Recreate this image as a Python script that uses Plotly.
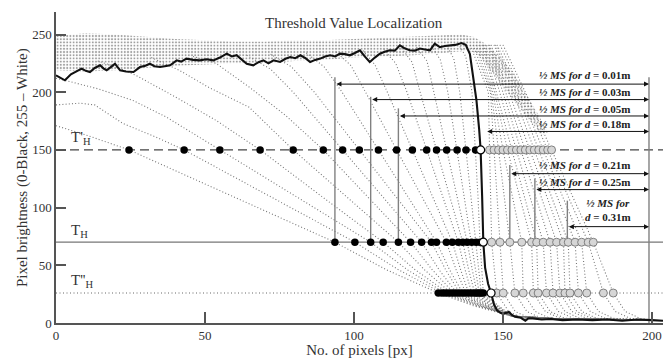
import plotly.graph_objects as go

# ---------------- data ----------------
# threshold levels
t_prime = 150
t_h = 70
t_dprime = 26

# crossing positions of the defocused profiles (black = left of edge, gray = right of edge)
black_150 = [24.5, 43, 55, 68.5, 79.6, 89.7, 96.2, 101.8, 108.2, 114.3, 119.6, 124.4, 127.7, 131.1, 134.6, 137.6, 140.8]
black_70 = [93.6, 100.3, 105.6, 109.8, 114.9, 119, 122.7, 126, 127.7, 131, 133, 135, 136.5, 138, 139.5, 141, 142.3]
black_26 = [128.3, 129.5, 130.5, 131.5, 132.5, 133.5, 134.5, 135.5, 136.5, 137.5, 138.5, 139.5, 140.5, 141.3, 142, 142.7, 143.4]
gray_150 = [145.5, 147, 148.5, 150, 151.5, 153, 154.5, 156, 157.5, 159, 160.5, 162, 163.5, 165, 166.3]
gray_70 = [146.2, 149, 152.3, 156.3, 159.6, 161.3, 163.5, 165.8, 168, 170.3, 171.9, 174.2, 176.4, 178.6, 180.3]
gray_26 = [147.9, 150.1, 154, 156.8, 160.2, 161.8, 164.6, 166.8, 169.1, 170.8, 172.5, 175.3, 178.1, 183.7, 187]
white_x = [142.5, 143.4, 146]
white_y = [150, 70, 26]

# dotted left-side profiles (x, brightness)
left_profiles = [
    [(0, 171), (10, 163), (24.5, 150), (59, 110), (93.6, 70), (111, 46), (128.3, 26), (140, 15), (153, 6), (170, 3.5), (200, 2.5)],
    [(0, 189), (8, 190.5), (13, 189), (22.4, 173), (33.6, 161), (43, 150), (71.6, 110), (100.3, 70), (115, 46), (129.5, 26), (141, 15), (153, 6), (170, 3.5), (200, 2.5)],
    [(0, 212), (3.4, 210), (14, 203), (25.7, 193), (37, 178.5), (55, 150), (80.3, 110), (105.6, 70), (118, 46), (130.5, 26), (141.5, 15), (153, 6), (170, 3.5), (200, 2.5)],
    [(14, 227), (20, 222), (26.8, 214.6), (40, 196), (53.7, 175.6), (68.5, 150), (89, 110), (109.8, 70), (120.6, 46), (131.5, 26), (142, 15), (153, 6), (170, 3.5), (200, 2.5)],
    [(32, 230), (41.4, 219), (51, 204.5), (64.8, 187), (79.6, 150), (97.2, 110), (114.9, 70), (123.7, 46), (132.5, 26), (142.5, 15), (153, 6), (170, 3.5), (200, 2.5)],
    [(46, 231), (53.7, 225), (64.8, 204.5), (77, 180), (89.7, 150), (104.3, 110), (119, 70), (126.3, 46), (133.5, 26), (143, 15), (153, 6), (170, 3.5), (200, 2.5)],
    [(64, 232), (72, 220), (79.6, 200), (96.2, 150), (109.5, 110), (122.7, 70), (128.6, 46), (134.5, 26), (143.5, 15), (153, 6), (170, 3.5), (200, 2.5)],
    [(72, 233), (79, 222), (86.7, 200), (101.8, 150), (113.9, 110), (126, 70), (130.8, 46), (135.5, 26), (144, 15), (153, 6), (170, 3.5), (200, 2.5)],
    [(84, 234), (90, 222), (96, 200), (108.2, 150), (118, 110), (127.7, 70), (132.1, 46), (136.5, 26), (144.5, 15), (153, 6), (170, 3.5), (200, 2.5)],
    [(94, 235), (99, 223), (103.9, 200), (114.3, 150), (122.7, 110), (131, 70), (134.3, 46), (137.5, 26), (145, 15), (153, 6), (170, 3.5), (200, 2.5)],
    [(103, 236), (107, 224), (111.2, 200), (119.6, 150), (126.3, 110), (133, 70), (135.8, 46), (138.5, 26), (145.5, 15), (153, 6), (170, 3.5), (200, 2.5)],
    [(110, 237), (114, 225), (117.8, 200), (124.4, 150), (129.7, 110), (135, 70), (137.3, 46), (139.5, 26), (146, 15), (153, 6), (170, 3.5), (200, 2.5)],
    [(116, 238), (119.5, 226), (122.2, 200), (127.7, 150), (132.1, 110), (136.5, 70), (138.5, 46), (140.5, 26), (146.5, 15), (153, 6), (170, 3.5), (200, 2.5)],
    [(121, 239), (124.5, 227), (126.8, 200), (131.1, 150), (134.6, 110), (138, 70), (139.7, 46), (141.3, 26), (147, 15), (153, 6), (170, 3.5), (200, 2.5)],
    [(126, 240), (129, 228), (131.5, 200), (134.6, 150), (137, 110), (139.5, 70), (140.8, 46), (142, 26), (147.5, 15), (153, 6), (170, 3.5), (200, 2.5)],
    [(131, 241), (133.5, 229), (135.5, 200), (137.6, 150), (139.3, 110), (141, 70), (141.9, 46), (142.7, 26), (148, 15), (153, 6), (170, 3.5), (200, 2.5)],
    [(135, 242), (137.5, 231), (139.6, 200), (140.8, 150), (141.6, 110), (142.3, 70), (142.9, 46), (143.4, 26), (148.5, 15), (153, 6), (170, 3.5), (200, 2.5)],
]

# dotted right-side profiles: top start x, x at brightness 200
right_top_x = [139, 140, 141, 142, 143, 143.5, 144, 145, 145.5, 146, 147, 147.5, 148, 149, 150]
right_200_x = [145.1, 145.8, 146.1, 146.6, 147.2, 147.8, 148.9, 149.9, 150.9, 152, 153.4, 154.4, 155.4, 156.5, 157.5]

# sharp (in-focus) profile, thick black line
sharp_profile = [
    (0, 214.6), (1.5, 212.5), (3, 210.3), (5, 215.5), (7, 218), (8.6, 220.4), (10, 218.5), (11.4, 217.5),
    (13, 221), (14.8, 223.3), (16, 220.5), (17, 219), (18.5, 222), (19.8, 224.7), (21.5, 219), (23.5, 218),
    (26, 217.5), (28.2, 221.8), (30, 223), (31.5, 224.7), (33, 222.5), (34.9, 221.8), (36.5, 222.5),
    (38.3, 223.3), (40.5, 227.6), (42, 226.5), (43.8, 229.1), (46, 228), (48.3, 227.6), (50.5, 228.5),
    (52.8, 227.6), (55, 230), (57.3, 233.4), (59, 231), (60.6, 232), (62.5, 228), (64, 224.7), (66.2, 223.3),
    (68, 226), (69.6, 227.6), (71.3, 225), (73, 227.6), (75.2, 226.2), (77, 229), (78.6, 230.5),
    (80.3, 229.5), (82, 232), (83.7, 229.5), (85.3, 226.2), (87, 228), (88.7, 229.1), (90.3, 231),
    (92, 232), (93.7, 231), (95.3, 233.4), (97, 233), (98.6, 232), (100.3, 234), (102, 236.3),
    (103.6, 231), (105.3, 226.2), (107, 230), (108.7, 233.4), (110.3, 235), (112, 236.3), (113.7, 236),
    (115.4, 240.6), (117, 238), (118.7, 236.3), (120.4, 236), (122.1, 237.8), (123.8, 237), (125.5, 236.3),
    (127.1, 242), (128.8, 239), (130.5, 240), (132.2, 240.6), (134, 241), (136.1, 242.6), (137.5, 241),
    (138.9, 233), (140, 215), (141.1, 193), (142, 168), (142.5, 150), (143, 110), (143.4, 70), (144, 48),
    (145, 34), (146, 26), (147, 16), (148, 11), (149, 9), (150, 8), (151, 8.5), (152, 9.5), (153, 7),
    (154, 5.5), (156, 4.5), (157.5, 2), (158.5, 4), (160, 4), (163, 3), (166, 3.5), (170, 2.5), (175, 3),
    (180, 2.5), (185, 3), (190, 2), (195, 3), (200, 2.5), (203.7, 2),
]

# noisy bright plateau band (outline of the dense cloud of profile samples)
band_outline = [
    (0, 249), (10, 251), (20, 250), (30, 248), (40, 246), (50, 245), (60, 244), (70, 244), (80, 245),
    (90, 245), (100, 246), (110, 247), (120, 248), (130, 249), (136, 250), (140, 248), (143, 244),
    (146, 238), (150, 228), (154, 215), (158, 198), (162, 180), (165, 165),
    (163, 163), (155, 188), (149, 208), (145, 222), (141, 234), (138, 236), (130, 234), (120, 232),
    (110, 231), (100, 230), (90, 228), (80, 227), (70, 225), (60, 225), (50, 224), (40, 223),
    (30, 221), (20, 219), (10, 218), (0, 219),
]

# half measuring-section annotations
ms_labels = ["0.01m", "0.03m", "0.05m", "0.18m", "0.21m", "0.25m", "0.31m"]
ms_start = [93.6, 105.6, 114.9, 144.2, 152.3, 160.7, 171.6]
ms_arrow_y = [207, 193.6, 179.4, 166, 129.4, 115.6, 83.5]
ms_line_top = [213, 196, 186, None, 137, 125, 106]
ms_label_y = [214.6, 200.2, 185.8, 172.8, 136.7, 122.2, 98]
ms_end = 199
ms_end_top = 213

X_MAX = 203.7
Y_MAX = 269.5
SERIF = "Liberation Serif"

fig = go.Figure()

# dense cloud of plateau samples
fig.add_trace(go.Scatter(
    x=[p[0] for p in band_outline], y=[p[1] for p in band_outline],
    mode="lines", line=dict(width=0), fill="toself",
    fillcolor="rgba(255,255,255,0)",
    fillpattern=dict(shape=".", fgcolor="#404040", bgcolor="rgba(255,255,255,0)", size=3.2, solidity=0.3),
    hoverinfo="skip"))

dotted = dict(color="#777777", width=1.1, dash="1px,2.2px")
for prof in left_profiles:
    fig.add_trace(go.Scatter(x=[p[0] for p in prof], y=[p[1] for p in prof],
                             mode="lines", line=dotted, hoverinfo="skip"))

for i in range(len(gray_150)):
    xs = [right_top_x[i], right_200_x[i], gray_150[i], gray_70[i], gray_26[i],
          gray_26[i] + 4, gray_26[i] + 9, 200]
    ys = [241, 200, t_prime, t_h, t_dprime, 10, 4, 2.5]
    fig.add_trace(go.Scatter(x=xs, y=ys, mode="lines", line=dotted, hoverinfo="skip"))

# threshold lines
fig.add_trace(go.Scatter(x=[0, X_MAX], y=[t_prime, t_prime], mode="lines",
                         line=dict(color="#444444", width=1.4, dash="9px,5px"), hoverinfo="skip"))
fig.add_trace(go.Scatter(x=[0, X_MAX], y=[t_h, t_h], mode="lines",
                         line=dict(color="#777777", width=1.2), hoverinfo="skip"))
fig.add_trace(go.Scatter(x=[0, X_MAX], y=[t_dprime, t_dprime], mode="lines",
                         line=dict(color="#666666", width=1, dash="1px,2.5px"), hoverinfo="skip"))

# vertical measuring lines
for xs, top in zip(ms_start, ms_line_top):
    if top is None:
        continue
    fig.add_trace(go.Scatter(x=[xs, xs], y=[t_h, top], mode="lines",
                             line=dict(color="#808080", width=1.4), hoverinfo="skip"))
fig.add_trace(go.Scatter(x=[ms_end, ms_end], y=[0, ms_end_top], mode="lines",
                         line=dict(color="#808080", width=1.4), hoverinfo="skip"))

# sharp profile
fig.add_trace(go.Scatter(x=[p[0] for p in sharp_profile], y=[p[1] for p in sharp_profile],
                         mode="lines", line=dict(color="#111111", width=2.1), hoverinfo="skip"))

# intersection markers
gray_marker = dict(size=8, color="#d6d6d6", line=dict(color="#808080", width=1))
for xs, lvl in [(gray_150, t_prime), (gray_70, t_h), (gray_26, t_dprime)]:
    fig.add_trace(go.Scatter(x=xs, y=[lvl] * len(xs), mode="markers", marker=gray_marker, hoverinfo="skip"))
black_marker = dict(size=7.5, color="#000000")
for xs, lvl in [(black_150, t_prime), (black_70, t_h), (black_26, t_dprime)]:
    fig.add_trace(go.Scatter(x=xs, y=[lvl] * len(xs), mode="markers", marker=black_marker, hoverinfo="skip"))
fig.add_trace(go.Scatter(x=white_x, y=white_y, mode="markers",
                         marker=dict(size=8, color="#ffffff", line=dict(color="#000000", width=1.2)),
                         hoverinfo="skip"))

# arrows and labels
for lab, xs, ay, ly in zip(ms_labels, ms_start, ms_arrow_y, ms_label_y):
    fig.add_annotation(x=ms_end, y=ay, ax=xs, ay=ay, xref="x", yref="y", axref="x", ayref="y",
                       showarrow=True, arrowhead=2, startarrowhead=2, arrowside="end+start",
                       arrowsize=1, arrowwidth=1, arrowcolor="#111111", text="")
    if lab == "0.31m":
        txt = "<b><i>½ MS for</i></b><br><b><i>d</i> = " + lab + "</b>"
    else:
        txt = "<b><i>½ MS for d</i> = " + lab + "</b>"
    fig.add_annotation(x=193.7, y=ly, xref="x", yref="y", text=txt, showarrow=False,
                       xanchor="right", yanchor="middle", align="center",
                       font=dict(family=SERIF, size=11, color="#222222"))

# threshold names
for txt, yy in [("T'<sub>H</sub>", 160), ("T<sub>H</sub>", 80), ("T''<sub>H</sub>", 36)]:
    fig.add_annotation(x=4.5, y=yy, xref="x", yref="y", text=txt, showarrow=False,
                       xanchor="left", yanchor="middle", font=dict(family=SERIF, size=15, color="#333333"))

# title
fig.add_annotation(x=100, y=260, xref="x", yref="y", text="Threshold Value Localization",
                   showarrow=False, xanchor="center", yanchor="middle",
                   font=dict(family=SERIF, size=15, color="#333333"))

# y-axis title placed as a rotated annotation
fig.add_annotation(x=-0.055, y=0.5, xref="paper", yref="paper", textangle=-90,
                   text="Pixel brightness (0-Black, 255 – White)", showarrow=False,
                   xanchor="center", yanchor="middle",
                   font=dict(family=SERIF, size=15, color="#333333"))

axis_common = dict(showgrid=False, zeroline=False, showline=True, linecolor="#555555", linewidth=1.5,
                   ticks="inside", tickwidth=1.5, tickcolor="#555555",
                   tickfont=dict(family=SERIF, size=13, color="#333333"), automargin=False)

fig.update_layout(
    width=667, height=358,
    margin=dict(l=56, r=4, t=12, b=35),
    plot_bgcolor="white", paper_bgcolor="white",
    showlegend=False,
    font=dict(family=SERIF, color="#333333"),
    xaxis=dict(range=[0, X_MAX], tickvals=[0, 50, 100, 150, 200], ticklen=11,
               title=dict(text="No. of pixels [px]", font=dict(family=SERIF, size=15, color="#333333"), standoff=2),
               **axis_common),
    yaxis=dict(range=[0, Y_MAX], tickvals=[0, 50, 100, 150, 200, 250], ticklen=10,
               **axis_common),
)

# remove the default page margin so the figure sits at the window's top-left corner
fig.write_html("out.html", config={"displayModeBar": False},
               post_script="document.body.style.margin='0px';")
